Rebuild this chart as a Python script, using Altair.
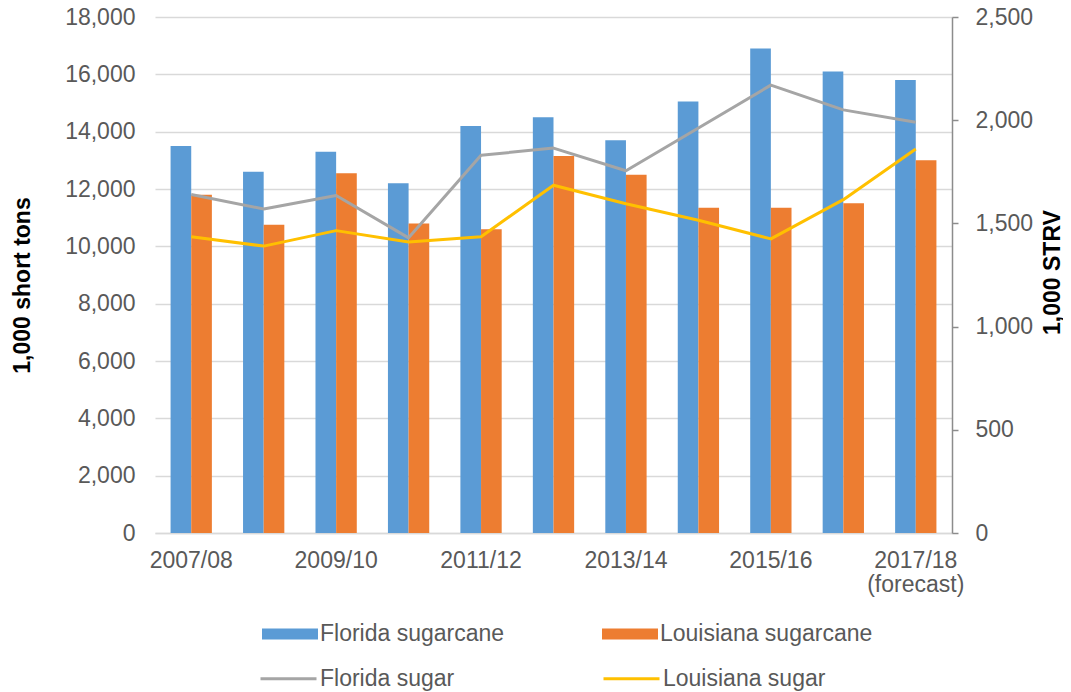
import altair as alt
import pandas as pd

seasons = ["2007/08", "2008/09", "2009/10", "2010/11", "2011/12", "2012/13",
           "2013/14", "2014/15", "2015/16", "2016/17", "2017/18"]
florida_cane = [13500, 12600, 13300, 12200, 14200, 14500, 13700, 15050, 16900, 16100, 15800]
louisiana_cane = [11800, 10750, 12550, 10800, 10600, 13150, 12500, 11350, 11350, 11500, 13000]
florida_sugar = [1640, 1570, 1635, 1430, 1830, 1865, 1755, 1962, 2170, 2050, 1990]
louisiana_sugar = [1435, 1390, 1465, 1410, 1435, 1685, 1595, 1515, 1425, 1615, 1860]

cane_series = ["Florida sugarcane", "Louisiana sugarcane"]
sugar_series = ["Florida sugar", "Louisiana sugar"]
cane_colors = ["#5B9BD5", "#ED7D31"]
sugar_colors = ["#A5A5A5", "#FFC000"]

df_cane = pd.DataFrame(
    [{"season": s, "series": cane_series[0], "value": v} for s, v in zip(seasons, florida_cane)]
    + [{"season": s, "series": cane_series[1], "value": v} for s, v in zip(seasons, louisiana_cane)]
)
df_sugar = pd.DataFrame(
    [{"season": s, "series": sugar_series[0], "value": v} for s, v in zip(seasons, florida_sugar)]
    + [{"season": s, "series": sugar_series[1], "value": v} for s, v in zip(seasons, louisiana_sugar)]
)

FONT = "Liberation Sans"
LABEL_COLOR = "#595959"
FS = 23

x_enc = alt.X(
    "season:N",
    sort=seasons,
    scale=alt.Scale(paddingInner=0.43, paddingOuter=0.215),
    axis=alt.Axis(
        title=None,
        values=seasons[::2],
        labelExpr="datum.value == '2017/18' ? ['2017/18', '(forecast)'] : datum.value",
        labelAngle=0,
        labelFontSize=FS,
        labelColor=LABEL_COLOR,
        labelPadding=16,
        labelLineHeight=24,
        ticks=False,
        domainColor="#D9D9D9",
        domainWidth=1.5,
        grid=False,
    ),
)

bars = alt.Chart(df_cane).mark_bar().encode(
    x=x_enc,
    xOffset=alt.XOffset("series:N", sort=cane_series, scale=alt.Scale(paddingInner=0, paddingOuter=0)),
    y=alt.Y(
        "value:Q",
        scale=alt.Scale(domain=[0, 18000], nice=False),
        axis=alt.Axis(
            values=list(range(0, 18001, 2000)),
            format=",.0f",
            title="1,000 short tons",
            titleFontSize=FS,
            titleFontWeight="bold",
            titleColor="#000000",
            titleX=-133,
            titleY=268,
            titleAngle=270,
            titleAlign="center",
            titleBaseline="middle",
            labelFontSize=FS,
            labelColor=LABEL_COLOR,
            labelPadding=20,
            domain=False,
            ticks=False,
            grid=True,
            gridColor="#D9D9D9",
            gridWidth=1.5,
        ),
    ),
    fill=alt.Fill(
        "series:N",
        scale=alt.Scale(domain=cane_series, range=cane_colors),
        legend=alt.Legend(
            title=None,
            orient="none",
            direction="horizontal",
            columns=2,
            legendX=107,
            legendY=589,
            symbolType="M-1,-0.2H1V0.2H-1Z",
            symbolSize=3136,
            symbolStrokeWidth=0,
            labelFontSize=FS,
            labelColor=LABEL_COLOR,
            labelOffset=2,
            labelLimit=400,
            columnPadding=97,
        ),
    ),
)

lines = alt.Chart(df_sugar).mark_line(strokeWidth=3, strokeJoin="round").encode(
    x=x_enc,
    y=alt.Y(
        "value:Q",
        scale=alt.Scale(domain=[0, 2500], nice=False),
        axis=alt.Axis(
            orient="right",
            values=list(range(0, 2501, 500)),
            format=",.0f",
            title="1,000 STRV",
            titleFontSize=FS,
            titleFontWeight="bold",
            titleColor="#000000",
            titleX=100,
            titleY=255,
            titleAngle=270,
            titleAlign="center",
            titleBaseline="middle",
            labelFontSize=FS,
            labelColor=LABEL_COLOR,
            labelPadding=17,
            domain=True,
            domainColor="#8C8C8C",
            domainWidth=1.5,
            ticks=True,
            tickSize=6,
            tickColor="#8C8C8C",
            tickWidth=1.5,
            grid=False,
        ),
    ),
    stroke=alt.Stroke(
        "series:N",
        scale=alt.Scale(domain=sugar_series, range=sugar_colors),
        legend=alt.Legend(
            title=None,
            orient="none",
            direction="horizontal",
            columns=2,
            legendX=104,
            legendY=632,
            symbolType="stroke",
            symbolSize=3136,
            symbolStrokeWidth=3,
            labelFontSize=FS,
            labelColor=LABEL_COLOR,
            labelOffset=2,
            labelLimit=400,
            columnPadding=142,
        ),
    ),
    detail="series:N",
)

chart = (
    alt.layer(bars, lines)
    .resolve_scale(y="independent", fill="independent", stroke="independent")
    .properties(
        width=797,
        height=516,
        autosize=alt.AutoSizeParams(type="none"),
        padding={"left": 147, "top": 9, "right": 111, "bottom": 160},
    )
    .configure(font=FONT)
    .configure_view(stroke=None)
)

chart.save("out.html", embed_options={"renderer": "svg", "actions": False})
